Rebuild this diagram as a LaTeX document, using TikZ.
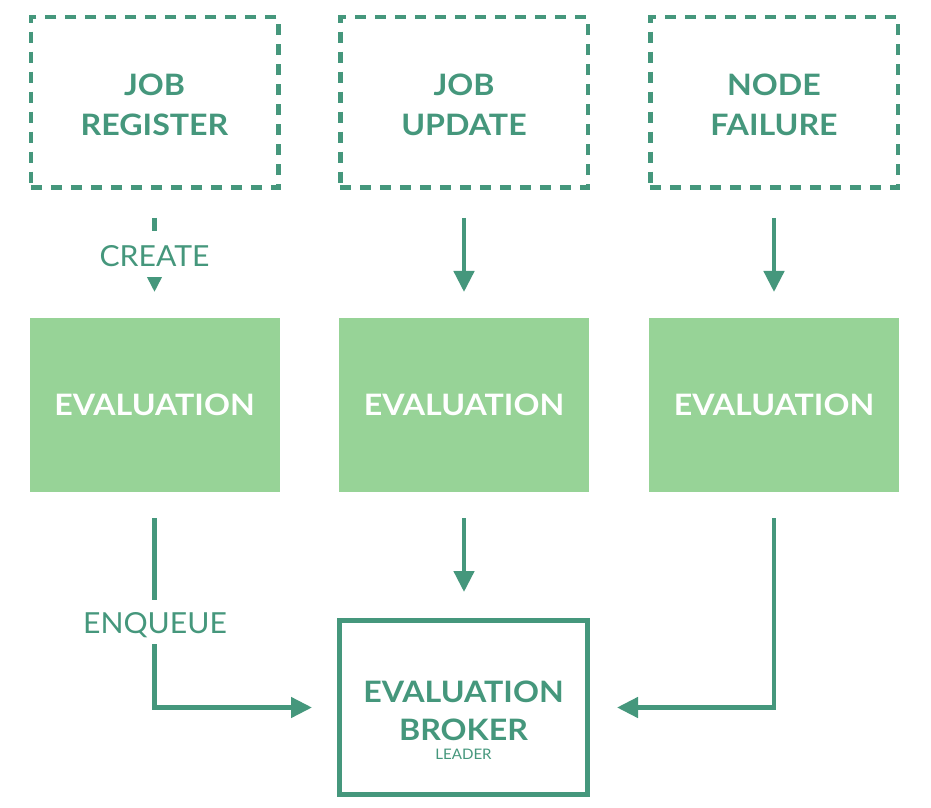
\documentclass[tikz,border=0pt]{standalone}
\usepackage{fontspec}
\setmainfont{Lato}
\usetikzlibrary{arrows.meta}
\definecolor{dk}{HTML}{45977C}
\definecolor{lt}{HTML}{97D397}
\newcommand{\boldtxt}{\fontsize{29.5}{40}\selectfont\bfseries\addfontfeature{FakeStretch=1.09}}
\newcommand{\regtxt}{\fontsize{29}{32}\selectfont\addfontfeature{FakeStretch=1.04}}
\begin{document}
\begin{tikzpicture}[x=1pt,y=1pt,
  every node/.style={outer sep=0pt},
  srcbox/.style={draw=dk, line width=4.5pt, dash pattern=on 11pt off 9pt,
    minimum width=247.5pt, minimum height=170.5pt, inner sep=0pt},
  srctext/.style={text=dk, align=center, inner sep=0pt, font=\boldtxt},
  evbox/.style={fill=lt, minimum width=250pt, minimum height=174pt, inner sep=0pt,
    text=white, font=\boldtxt},
  brokerbox/.style={draw=dk, line width=5pt, minimum width=248pt, minimum height=174pt, inner sep=0pt},
  btext/.style={text=dk, anchor=base, inner sep=0pt, font=\boldtxt},
  lbl/.style={fill=white, text=dk, inner xsep=3pt, inner ysep=0pt, font=\regtxt},
  arr/.style={draw=dk, line width=4.5pt, -{Triangle[length=21pt,width=20pt]}},
]
\useasboundingbox[fill=white] (0,0) rectangle (931,807);

% top boxes
\node[srcbox] (jr) at (154.5,704.5) {};
\node[srcbox] (ju) at (464,704.5) {};
\node[srcbox] (nf) at (774,704.5) {};
\node[srctext] (jrt) at ([yshift=-2.5pt]jr.center) {JOB\\REGISTER};
\node[srctext] (jut) at ([yshift=-2.5pt]ju.center) {JOB\\UPDATE};
\node[srctext] (nft) at ([yshift=-2.5pt]nf.center) {NODE\\FAILURE};

% evaluation boxes
\node[evbox] (ev1) at (154.5,402) {EVALUATION};
\node[evbox] (ev2) at (464,402) {EVALUATION};
\node[evbox] (ev3) at (774,402) {EVALUATION};

% broker
\node[brokerbox] (br) at (463.5,99.5) {};
\node[btext] (brt1) at ([yshift=5.5pt]br.center) {EVALUATION};
\node[btext] (brt2) at ([yshift=-32.5pt]br.center) {BROKER};
\node[btext, font=\fontsize{14.5}{16}\selectfont\addfontfeature{FakeStretch=1.04}] (brt3) at ([yshift=-51.5pt]br.center) {LEADER};

% top arrows
\draw[arr, shorten <=30.25pt, shorten >=26pt] (jr.south) -- (ev1.north);
\draw[arr, shorten <=30.25pt, shorten >=26pt] (ju.south) -- (ev2.north);
\draw[arr, shorten <=30.25pt, shorten >=26pt] (nf.south) -- (ev3.north);
\node[lbl, text height=35.4pt, text depth=10.6pt] (create) at (154.5,553) {CREATE};

% bottom arrows
\draw[arr, shorten <=26pt, shorten >=28.5pt] (ev2.south) -- (ev2.south |- br.north);
\draw[arr, shorten <=26pt, shorten >=27.5pt] (ev1.south) |- (br.west);
\draw[arr, shorten <=26pt, shorten >=29.5pt] (ev3.south) |- (br.east);
\node[lbl, text height=33.4pt, text depth=10.6pt] (enq) at (155,185) {ENQUEUE};
\end{tikzpicture}
\end{document}
